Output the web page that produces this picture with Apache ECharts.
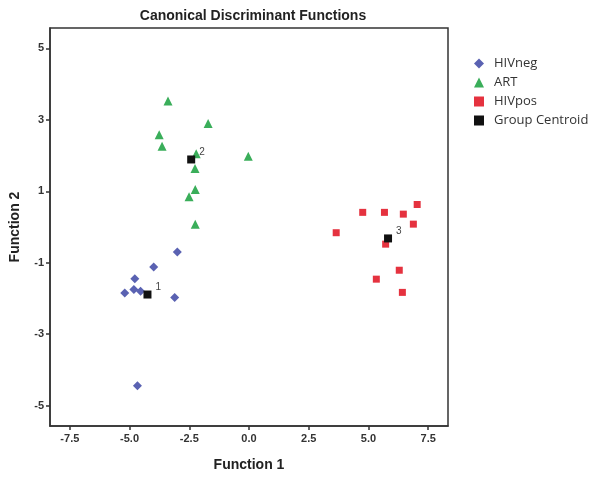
<!DOCTYPE html>
<html>
<head>
<meta charset="utf-8">
<script src="https://cdn.jsdelivr.net/npm/echarts@6/dist/echarts.min.js"></script>
<style>
  html, body { margin: 0; padding: 0; background: #fff; }
  #main { width: 600px; height: 477px; }
</style>
</head>
<body>
<div id="main"></div>
<script>
// values: [function 1, function 2]
var hivNeg = [[-3.0, -0.70], [-3.99, -1.12], [-4.78, -1.45], [-5.20, -1.85], [-4.82, -1.75],
              [-4.54, -1.80], [-3.11, -1.97], [-4.67, -4.44]];
var art = [[-3.39, 3.53], [-1.71, 2.90], [-3.76, 2.58], [-3.64, 2.26], [-0.03, 1.98],
           [-2.26, 1.64], [-2.25, 1.05], [-2.51, 0.85], [-2.25, 0.08], [-2.21, 2.05]];
var hivPos = [[7.04, 0.63], [4.76, 0.41], [5.67, 0.41], [6.46, 0.36], [6.88, 0.08],
              [3.65, -0.16], [5.72, -0.48], [6.29, -1.21], [5.33, -1.46], [6.42, -1.83]];
var centroidNames = ['1', '2', '3'];
var centroids = [[-4.25, -1.89], [-2.42, 1.89], [5.82, -0.32]];
var xTicks = [-7.5, -5.0, -2.5, 0.0, 2.5, 5.0, 7.5];
var yTicks = [-5, -3, -1, 1, 3, 5];

var myChart = echarts.init(document.getElementById('main'));

var tickLabel = { fontFamily: 'Arial', fontSize: 11, fontWeight: 'bold', color: '#333' };
var axisLn = { show: true, onZero: false, lineStyle: { color: '#333', width: 1.5 } };

myChart.setOption({
  animation: false,
  title: {
    text: 'Canonical Discriminant Functions',
    left: 248, top: 4, textAlign: 'center',
    textStyle: { fontFamily: 'Arial', fontSize: 14, fontWeight: 'bold', color: '#222' }
  },
  grid: {
    left: 48, right: 152, top: 28, bottom: 50,
    show: true, borderColor: '#333', borderWidth: 1.5, backgroundColor: '#fff'
  },
  legend: {
    orient: 'vertical', left: 469, top: 52, itemGap: 6,
    itemWidth: 10, itemHeight: 10,
    textStyle: { fontFamily: 'Open Sans', fontSize: 13, color: '#333', padding: [0, 0, 0, 5] },
    data: [
      { name: 'HIVneg', icon: 'diamond' },
      { name: 'ART', icon: 'triangle' },
      { name: 'HIVpos', icon: 'rect' },
      { name: 'Group Centroid', icon: 'rect' }
    ]
  },
  xAxis: {
    type: 'value', min: -8.33, max: 8.33,
    name: 'Function 1', nameLocation: 'middle', nameGap: 32,
    nameTextStyle: { fontFamily: 'Arial', fontSize: 14, fontWeight: 'bold', color: '#222' },
    axisLine: axisLn,
    axisTick: { show: true, length: 4, customValues: xTicks, lineStyle: { color: '#333', width: 1.5 } },
    axisLabel: Object.assign({ customValues: xTicks, margin: 7,
      formatter: function (v) { return v.toFixed(1); } }, tickLabel),
    splitLine: { show: false }
  },
  yAxis: {
    type: 'value', min: -5.57, max: 5.57,
    name: 'Function 2', nameLocation: 'middle', nameGap: 28, nameRotate: 90,
    nameTextStyle: { fontFamily: 'Arial', fontSize: 14, fontWeight: 'bold', color: '#222' },
    axisLine: axisLn,
    axisTick: { show: true, length: 4, customValues: yTicks, lineStyle: { color: '#333', width: 1.5 } },
    axisLabel: Object.assign({ customValues: yTicks, margin: 6 }, tickLabel),
    splitLine: { show: false }
  },
  series: [
    { name: 'HIVneg', type: 'scatter', symbol: 'diamond', symbolSize: 9,
      itemStyle: { color: '#5a62b2', opacity: 1 }, data: hivNeg },
    { name: 'ART', type: 'scatter', symbol: 'triangle', symbolSize: 9,
      itemStyle: { color: '#3aae5a', opacity: 1 }, data: art },
    { name: 'HIVpos', type: 'scatter', symbol: 'rect', symbolSize: 7,
      itemStyle: { color: '#e5323f', opacity: 1 }, data: hivPos },
    { name: 'Group Centroid', type: 'scatter', symbol: 'rect', symbolSize: 8, z: 5,
      itemStyle: { color: '#111', opacity: 1 },
      data: centroids.map(function (c, i) { return { name: centroidNames[i], value: c }; }),
      label: { show: true, position: 'right', offset: [-1, -7], formatter: '{b}',
        fontFamily: 'Arial', fontSize: 10, color: '#444' } }
  ]
});
</script>
</body>
</html>
